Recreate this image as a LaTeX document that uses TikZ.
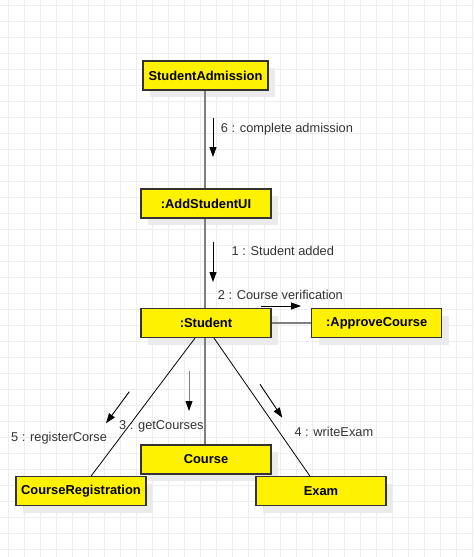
\documentclass[tikz,border=0pt]{standalone}
\usepackage{fontspec}
\setmainfont{Liberation Sans}
\usetikzlibrary{arrows.meta,shadows}
\definecolor{gridc}{HTML}{EDEDED}
\definecolor{boxline}{HTML}{333333}
\definecolor{lifec}{HTML}{7F7F7F}
\definecolor{labc}{HTML}{333333}
\begin{document}
\begin{tikzpicture}[x=1pt,y=-1pt,
  gridline/.style={draw=gridc,line width=0.9pt},
  obj/.style={draw=boxline,line width=1.2pt,fill=yellow,minimum height=29pt,minimum width=130pt,inner sep=0pt,
    font=\fontsize{12.9}{15}\selectfont\bfseries,
    general shadow={fill=black!8,shadow xshift=7pt,shadow yshift=-7pt}},
  life/.style={draw=lifec,line width=1.6pt},
  link/.style={draw=black,line width=0.8pt},
  msg/.style={draw=black,line width=0.9pt,-{Triangle[length=10pt,width=7pt,color=black]}},
  lab/.style={anchor=west,inner sep=0pt,text=labc,font=\fontsize{12.8}{15}\selectfont}]
\useasboundingbox (0,0) rectangle (474,557);
\fill[white] (0,0) rectangle (474,557);
\foreach \x in {8,24,...,472} \draw[gridline] (\x,0) -- (\x,557);
\foreach \y in {5,21,...,557} \draw[gridline] (0,\y) -- (474,\y);
% objects
\node[obj,minimum width=125pt] (sa) at (205.5,75.5) {StudentAdmission};
\node[obj] (ui) at (206,203.5) {:AddStudentUI};
\node[obj] (st) at (206,323) {:Student};
\node[obj] (ac) at (376.7,323) {:ApproveCourse};
\node[obj] (co) at (206,459.5) {Course};
\node[obj] (cr) at (81,491.3) {CourseRegistration};
\node[obj] (ex) at (321,491.3) {Exam};
% links
\draw[life] ([xshift=-0.5pt]sa.south) -- ([xshift=-1pt]ui.north);
\draw[life] ([xshift=-1pt]ui.south) -- ([xshift=-1pt]st.north);
\draw[life] (st.east) -- (ac.west);
\draw[life] ([xshift=-1pt]st.south) -- ([xshift=-1pt]co.north);
\draw[link] ([xshift=-11pt]st.south) -- ([xshift=10pt]cr.north);
\draw[link] ([xshift=8pt]st.south) -- ([xshift=-11pt]ex.north);
% message arrows
\coordinate (m6a) at (213,118); \coordinate (m6b) at (213,157);
\coordinate (m1a) at (213,242); \coordinate (m1b) at (213,282);
\coordinate (m2a) at (261,306); \coordinate (m2b) at (301,306);
\coordinate (m3a) at (189,371); \coordinate (m3b) at (189,411);
\coordinate (m5a) at (129.3,391.7); \coordinate (m5b) at (106,423.3);
\coordinate (m4a) at (260,384.3); \coordinate (m4b) at (282.3,417.7);
\draw[msg] (m6a) -- (m6b);
\draw[msg] (m1a) -- (m1b);
\draw[msg] (m2a) -- (m2b);
\draw[msg,draw=lifec] (m3a) -- (m3b);
\draw[msg] (m5a) -- (m5b);
\draw[msg] (m4a) -- (m4b);
% labels
\node[lab] (l6) at (220.7,129) {6 : complete admission};
\node[lab] (l1) at (231.5,250.5) {1 : Student added};
\node[lab] (l2) at (217.7,295) {2 : Course verification};
\node[lab] (l5) at (11,438.3) {5 : registerCorse};
\node[lab] (l3) at (119,426.7) {3 : getCourses};
\node[lab] (l4) at (294.3,431.7) {4 : writeExam};
\end{tikzpicture}
\end{document}
